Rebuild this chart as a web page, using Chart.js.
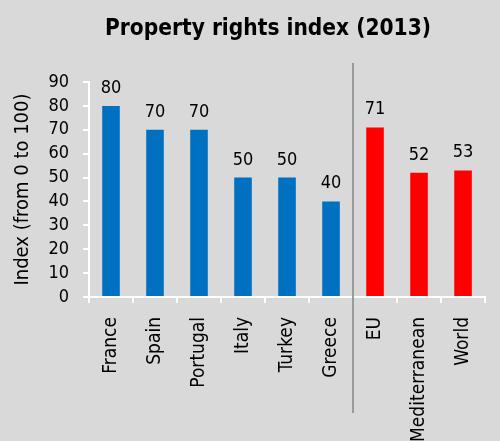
<!DOCTYPE html>
<html>
<head>
<meta charset="utf-8">
<script src="https://cdn.jsdelivr.net/npm/chart.js@4"></script>
<style>
  html, body { margin: 0; padding: 0; background: #d9d9d9; }
  #wrap { width: 500px; height: 441px; position: relative; }
</style>
</head>
<body>
<div id="wrap"><canvas id="chart"></canvas></div>
<script>
"use strict";
const $ = id => document.getElementById(id);

const categories = ["France", "Spain", "Portugal", "Italy", "Turkey", "Greece", "EU", "Mediterranean", "World"];
const values = [80, 70, 70, 50, 50, 40, 71, 52, 53];
const barColors = ["#0070c0", "#0070c0", "#0070c0", "#0070c0", "#0070c0", "#0070c0", "#ff0000", "#ff0000", "#ff0000"];
const yTicks = [0, 10, 20, 30, 40, 50, 60, 70, 80, 90];

const FONT = "'DejaVu Sans Condensed', 'DejaVu Sans', sans-serif";

/* ---------- value labels over bars ---------- */
const barLabels = {
  id: "barLabels",
  afterDatasetsDraw(chart) {
    const ctx = chart.ctx;
    const meta = chart.getDatasetMeta(0);
    ctx.save();
    ctx.font = "18px " + FONT;
    ctx.fillStyle = "#000";
    ctx.textAlign = "center";
    ctx.textBaseline = "alphabetic";
    meta.data.forEach((bar, i) => ctx.fillText(String(values[i]), bar.x, bar.y - 13));
    ctx.restore();
  }
};

/* ---------- grey divider between countries and aggregates ---------- */
const divider = {
  id: "divider",
  afterDraw(chart) {
    const x = chart.scales.x;
    const px = (x.getPixelForValue(5) + x.getPixelForValue(6)) / 2;
    const ctx = chart.ctx;
    ctx.save();
    ctx.strokeStyle = "#9a9a9a";
    ctx.lineWidth = 2;
    ctx.beginPath();
    ctx.moveTo(px, 63);
    ctx.lineTo(px, 413);
    ctx.stroke();
    ctx.restore();
  }
};

// nudge the title a bit right, as in the original
const titleShift = {
  id: "titleShift",
  afterLayout(chart) {
    const t = chart.titleBlock;
    if (t) { t.left += 14; t.right += 14; }
  }
};

new Chart($("chart"), {
  type: "bar",
  data: {
    labels: categories,
    datasets: [{ data: values, backgroundColor: barColors, barPercentage: 0.4, categoryPercentage: 1 }]
  },
  options: {
    animation: false, responsive: true, maintainAspectRatio: false,
    layout: { padding: { left: 11, right: 3, top: 0, bottom: 0 } },
    plugins: {
      legend: { display: false },
      tooltip: { enabled: false },
      title: { display: true, text: "Property rights index (2013)", color: "#000",
        font: { family: FONT, size: 22.5, weight: "bold" }, padding: { top: 16, bottom: 39 } }
    },
    scales: {
      x: {
        afterFit: s => { s.height = 144; },
        border: { color: "#fff", width: 2 },
        grid: { drawOnChartArea: false, color: "#fff", lineWidth: 2, tickLength: 6 },
        ticks: { color: "#000", font: { family: FONT, size: 19 }, minRotation: 90, maxRotation: 90, padding: 14 }
      },
      y: {
        min: 0, max: 90,
        afterFit: s => { s.width = 78; },
        afterBuildTicks: s => { s.ticks = yTicks.map(v => ({ value: v })); },
        border: { color: "#fff", width: 2 },
        grid: { drawOnChartArea: false, color: "#fff", lineWidth: 2, tickLength: 6 },
        ticks: { color: "#000", font: { family: FONT, size: 18 }, padding: 14, autoSkip: false },
        title: { display: true, text: "Index (from 0 to 100)", color: "#000",
          font: { family: FONT, size: 20 }, padding: 0 }
      }
    }
  },
  plugins: [barLabels, divider, titleShift]
});
</script>
</body>
</html>
